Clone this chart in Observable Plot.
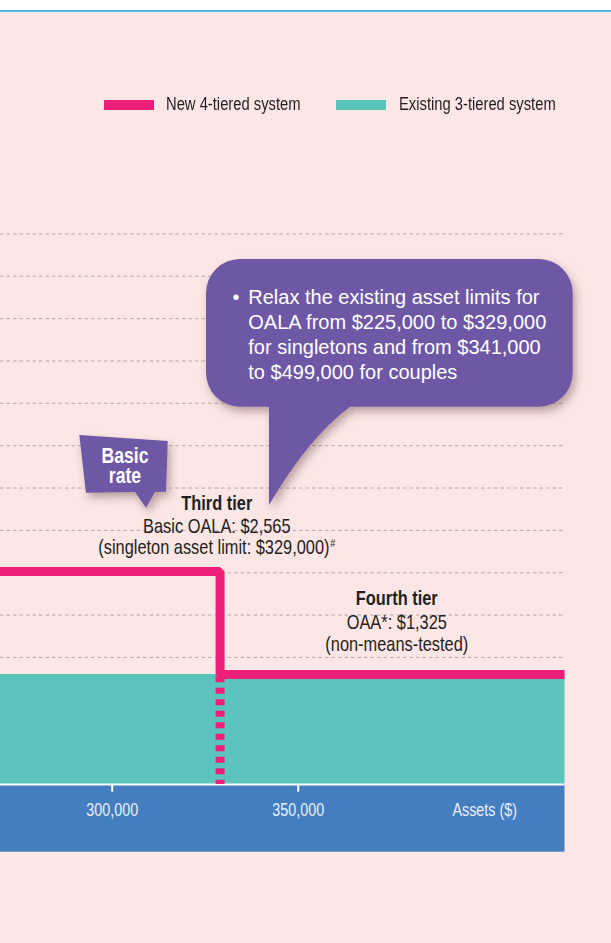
<!DOCTYPE html>
<html>
<head>
<meta charset="utf-8">
<script src="https://cdn.jsdelivr.net/npm/d3@7"></script>
<script src="https://cdn.jsdelivr.net/npm/@observablehq/plot@0.6"></script>
<style>
  html, body { margin: 0; padding: 0; overflow: hidden; }
  body { background: #fce6e6; width: 611px; height: 943px;
         font-family: "Liberation Sans", Arial, Helvetica, sans-serif; }
  #head { position: relative; height: 130px; }
  #topbar { position: absolute; left: 0; top: 0; width: 611px; height: 10px; background: #fff;
            border-bottom: 2px solid #52b5e3; }
  .sw { position: absolute; top: 100px; width: 50px; height: 10px; }
  .lt { position: absolute; top: 94.8px; font-size: 18px; line-height: 18px; color: #231f20;
        white-space: nowrap; transform: scaleX(0.82); transform-origin: 0 0; }
  #chart svg { display: block; }
</style>
</head>
<body>
<div id="head">
  <div id="topbar"></div>
  <div id="legend"></div>
</div>
<div id="chart"></div>
<script>
// ---------- data ----------
const seriesNames = ["New 4-tiered system", "Existing 3-tiered system"];
const newAssets = [144000, 329000, 460000];      // step breakpoints of the new system
const newAmounts = [2565, 1325, 1325];            // monthly allowance ($)
const existingAssets = [225000, 460000];
const existingAmounts = [1325, 1325];
const gridValues = [1530, 2040, 2550, 3060, 3570, 4080, 4590, 5100, 5610, 6120, 6630];
const xTicks = [300000, 350000];
const xLabel = "Assets ($)";
const assetLimit = 329000;
const tierTitles = ["Third tier", "Fourth tier"];
const tierAllowances = ["Basic OALA: $2,565", "OAA*: $1,325"];
const tierNotes = ["(singleton asset limit: $329,000)#", "(non-means-tested)"];
const tierAmounts = [2565, 1325];
const tierLabelAssets = [329000, 376500];
const calloutLines = ["Relax the existing asset limits for", "OALA from $225,000 to $329,000",
                      "for singletons and from $341,000", "to $499,000 for couples"];
const tagLines = ["Basic", "rate"];

// ---------- styles ----------
const pink = "#ee1f78", teal = "#5bc4bc", blue = "#437ec0", purple = "#6e58a6", ink = "#231f20";
const seriesColors = [pink, teal];
const font = "'Liberation Sans', Arial, Helvetica, sans-serif";
const condense = 0.82;   // narrow (condensed) look

// ---------- legend ----------
const legendSwatchX = [104.3, 336];
const legendTextX = [165.7, 399];
const legend = d3.select("#legend");
seriesNames.forEach((name, i) => {
  legend.append("div").attr("class", "sw").style("left", legendSwatchX[i] + "px").style("background", seriesColors[i]);
  legend.append("span").attr("class", "lt").style("left", legendTextX[i] + "px").text(name);
});

// ---------- chart ----------
function blueBand(...a) {
  const scales = a.length >= 4 ? a[1] : a[0];
  const dims = a.length >= 4 ? a[3] : a[1];
  const r = document.createElementNS("http://www.w3.org/2000/svg", "rect");
  r.setAttribute("x", dims.marginLeft);
  r.setAttribute("y", scales.y(0));
  r.setAttribute("width", dims.width - dims.marginLeft - dims.marginRight);
  r.setAttribute("height", 67.7);
  r.setAttribute("fill", blue);
  return r;
}

const tierStyle = {dx: [-3.3, 0], title: [-61.7, -69], allow: [-38.7, -45.7], note: [-17.7, -23.3]};
const tierMarks = tierTitles.flatMap((_, i) => [
  Plot.text([i], {x: d => tierLabelAssets[d], y: d => tierAmounts[d], text: d => tierTitles[d],
    dx: tierStyle.dx[i], dy: tierStyle.title[i], lineAnchor: "bottom", fontWeight: "bold", fontSize: 20, fill: ink}),
  Plot.text([i], {x: d => tierLabelAssets[d], y: d => tierAmounts[d], text: d => tierAllowances[d],
    dx: tierStyle.dx[i], dy: tierStyle.allow[i], lineAnchor: "bottom", fontSize: 20, fill: ink}),
  Plot.text([i], {x: d => tierLabelAssets[d], y: d => tierAmounts[d], text: d => tierNotes[d],
    dx: tierStyle.dx[i], dy: tierStyle.note[i], lineAnchor: "bottom", fontSize: 20, fill: ink})
]);

const newData = newAssets.map((x, i) => ({x, y: newAmounts[i]}));
const existingData = existingAssets.map((x, i) => ({x, y: existingAmounts[i]}));

const plot = Plot.plot({
  width: 611,
  height: 813,
  marginLeft: 0,
  marginRight: 46.5,
  marginTop: 103.4,
  marginBottom: 159,
  x: {domain: [269970, 421720]},
  y: {domain: [0, 6630], axis: null},
  style: {background: "transparent", fontFamily: font, overflow: "visible"},
  marks: [
    Plot.ruleY(gridValues, {stroke: "#b3abab", strokeWidth: 1, strokeDasharray: "3.5,3"}),
    Plot.areaY(existingData, {x: "x", y: "y", fill: teal, curve: "step-after", clip: true}),
    blueBand,
    Plot.ruleY([0], {stroke: "white", strokeWidth: 2}),
    Plot.ruleX([assetLimit], {y1: 0, y2: newAmounts[1], stroke: pink, strokeWidth: 9,
      strokeDasharray: "6,5.5", strokeDashoffset: 1.7}),
    Plot.line(newData, {x: "x", y: "y", stroke: pink, strokeWidth: 9, curve: "step-after",
      strokeLinejoin: "miter", strokeLinecap: "butt", clip: true}),
    ...tierMarks,
    Plot.axisX(xTicks, {tickSize: 7.7, tickPadding: 24, lineAnchor: "bottom", stroke: "white",
      strokeWidth: 2, fill: "#e9f0f8", fontSize: 17.5, tickFormat: d3.format(","), label: null}),
    Plot.text([xLabel], {frameAnchor: "bottom-right", textAnchor: "end", lineAnchor: "bottom",
      dx: -48, dy: 31.7, fill: "#e9f0f8", fontSize: 17.5})
  ]
});
document.getElementById("chart").appendChild(plot);
const svg = d3.select(plot);

// superscript "#"
svg.selectAll("text").each(function () {
  const t = this.textContent;
  if (t.endsWith("#") && this.childElementCount === 0) {
    this.textContent = t.slice(0, -1);
    d3.select(this).append("tspan").attr("font-size", 11).attr("dy", "-0.62em").attr("dx", 1).text("#");
  }
});

// condensed look for the chart's labels (horizontal squeeze around each anchor)
function condenseText(sel) {
  sel.each(function () {
    const tr = this.getAttribute("transform") || "";
    this.setAttribute("transform", (tr + ` scale(${condense},1)`).trim());
  });
}
condenseText(svg.selectAll("text"));

// ---------- annotations (tag + callout bubble) ----------
const defs = svg.append("defs");
defs.append("filter").attr("id", "shadow").attr("x", "-20%").attr("y", "-20%")
  .attr("width", "150%").attr("height", "170%")
  .append("feDropShadow").attr("dx", 3).attr("dy", 5).attr("stdDeviation", 4)
  .attr("flood-color", "#5a3838").attr("flood-opacity", 0.4);

const ann = svg.append("g").attr("text-anchor", "start");
// "Basic rate" tag
ann.append("path")
  .attr("d", "M79.3,305 L167.7,311 L166,361.7 L155,362 L146,377.7 L135,362 L86,362.7 Z")
  .attr("fill", purple).attr("filter", "url(#shadow)");
const tagText = ann.selectAll(null).data(tagLines).join("text")
  .attr("transform", (d, i) => `translate(125,${333.3 + i * 20})`)
  .attr("text-anchor", "middle")
  .attr("font-family", font).attr("font-weight", "bold").attr("font-size", 21.5)
  .attr("fill", "white").text(d => d);
condenseText(tagText);

// callout bubble
const L = 206, R = 572.7, T = 129, B = 276.7, r = 34;
ann.append("path")
  .attr("d", `M${L + r},${T} H${R - r} A${r},${r} 0 0 1 ${R},${T + r} V${B - r} A${r},${r} 0 0 1 ${R - r},${B}
              H350 Q308,308 269,375 V${B} H${L + r} A${r},${r} 0 0 1 ${L},${B - r} V${T + r} A${r},${r} 0 0 1 ${L + r},${T} Z`)
  .attr("fill", purple).attr("filter", "url(#shadow)");
ann.append("text").attr("x", 232.5).attr("y", 173.5).attr("text-anchor", "start").attr("font-family", font)
  .attr("font-size", 20).attr("fill", "white").text("•");
ann.selectAll(null).data(calloutLines).join("text")
  .attr("x", 248.3).attr("y", (d, i) => 173.5 + i * 25).attr("text-anchor", "start")
  .attr("font-family", font).attr("font-size", 20).attr("fill", "white").text(d => d);
</script>
</body>
</html>
